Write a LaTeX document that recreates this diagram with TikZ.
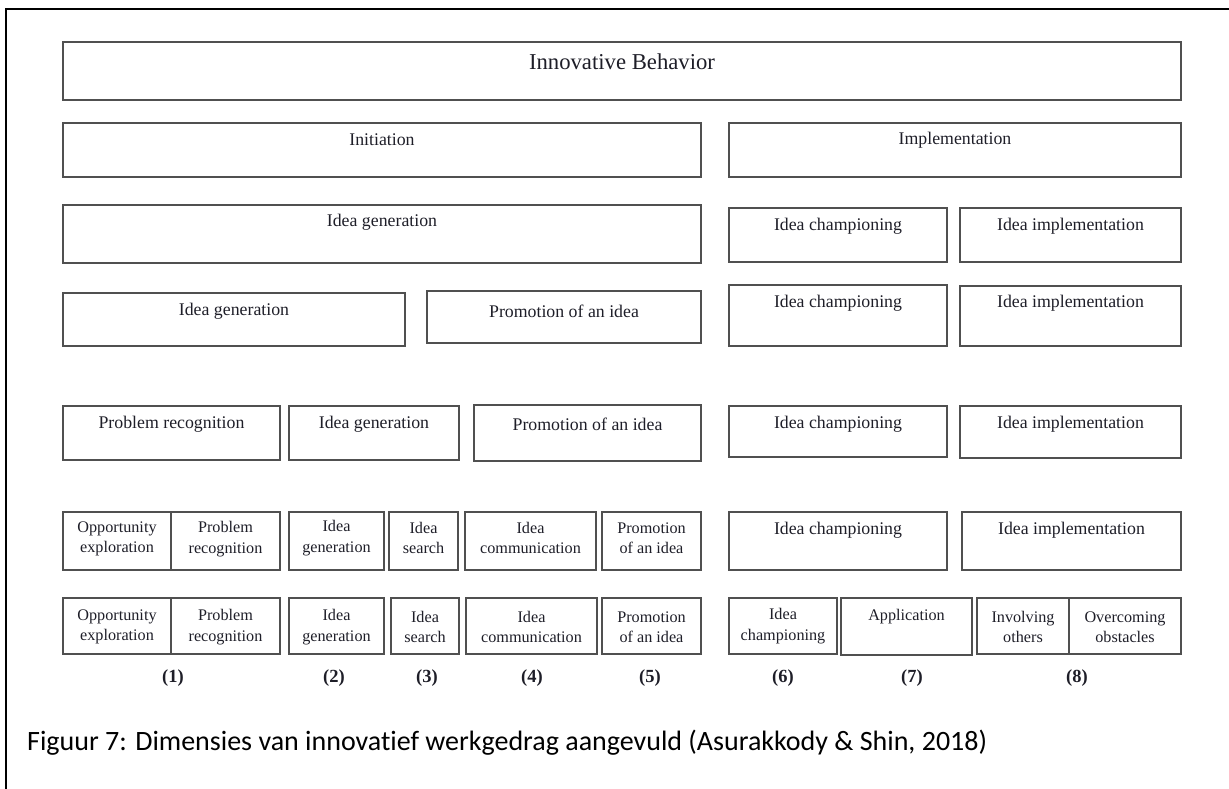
\documentclass[tikz,border=0pt]{standalone}
\usepackage{fontspec}
\setmainfont{Liberation Serif}
\newfontfamily\capfont[Ligatures=NoCommon]{Carlito}
\definecolor{boxgray}{RGB}{80,80,80}
\definecolor{textdark}{RGB}{30,30,40}

\begin{document}
\begin{tikzpicture}[x=1pt, y=-1pt,
  box/.style={draw=boxgray, line width=1.6pt},
  txt/.style={text=textdark, inner sep=0pt, font=\fontsize{17.8}{20}\selectfont},
  sml/.style={text=textdark, inner sep=0pt, align=center, font=\fontsize{16.2}{20.5}\selectfont}]
  \useasboundingbox (0,0) rectangle (1229,789);

  % Outer frame
  \draw[line width=2pt] (6,789) -- (6,9) -- (1229,9);

  % Top level
  \draw[box] (63,42) rectangle (1181,100);
  \node[txt, font=\fontsize{22.7}{26}\selectfont] (ib) at (622,62) {Innovative Behavior};

  % Single-line boxes
  \foreach \nm/\xa/\ya/\xb/\yb/\ty/\txt in {
    init/63/123/701/177/140/Initiation,
    impl/729/123/1181/177/140/Implementation,
    genA/63/205/701/263/222/Idea generation,
    champA/729/208/947/262/226/Idea championing,
    implA/960/208/1181/262/226/Idea implementation,
    genB/63/293/405/346/311/Idea generation,
    promB/427/291/701/343/311/Promotion of an idea,
    champB/729/285/947/346/303/Idea championing,
    implB/960/286/1181/346/303/Idea implementation,
    probC/63/406/280/460/424/Problem recognition,
    genC/289/406/459/460/424/Idea generation,
    promC/474/405/701/461/424/Promotion of an idea,
    champC/729/406/947/457/424/Idea championing,
    implC/960/406/1181/458/424/Idea implementation,
    champD/729/512/947/570/530/Idea championing,
    implD/962/512/1181/570/530/Idea implementation}
  {
    \draw[box] (\xa,\ya) rectangle (\xb,\yb);
    \node[txt] (\nm) at ({(\xa+\xb)/2},\ty) {\txt};
  }

  % Small boxes, rows 6 and 7
  \foreach \nm/\xa/\ya/\xb/\yb/\ty/\txt in {
    oppF/63/512/171/570/539/Opportunity\\exploration,
    probF/171/512/280/570/539/Problem\\recognition,
    genF/289/512/384/570/538/Idea\\generation,
    srchF/389/512/458/570/538/Idea\\search,
    commF/465/512/596/570/538/Idea\\communication,
    promF/602/512/701/570/538/Promotion\\of an idea,
    oppG/63/598/171/654/627/Opportunity\\exploration,
    probG/171/598/280/654/627/Problem\\recognition,
    genG/289/598/384/654/627/Idea\\generation,
    srchG/391/598/459/654/627/Idea\\search,
    commG/466/598/597/654/627/Idea\\communication,
    promG/602/598/701/654/627/Promotion\\of an idea,
    champG/729/598/837/654/626/Idea\\championing,
    applG/841/598/972/655/617/Application,
    invG/977/598/1069/654/627/Involving\\others,
    overG/1069/598/1181/654/627/Overcoming\\obstacles}
  {
    \draw[box] (\xa,\ya) rectangle (\xb,\yb);
    \node[sml] (\nm) at ({(\xa+\xb)/2},\ty) {\txt};
  }

  % Numbers under the columns
  \foreach \i/\x in {1/173, 2/334, 3/427, 4/532, 5/650, 6/783, 7/912, 8/1077}
    \node[txt, font=\fontsize{18.5}{20}\selectfont\bfseries] (num\i) at (\x,678) {(\i)};

  % Caption
  \node[anchor=west, inner sep=0pt, font=\capfont\fontsize{28}{32}\selectfont] (cap) at (27,743)
    {Figuur 7: Dimensies van innovatief werkgedrag aangevuld (Asurakkody \& Shin, 2018)};
\end{tikzpicture}
\end{document}
